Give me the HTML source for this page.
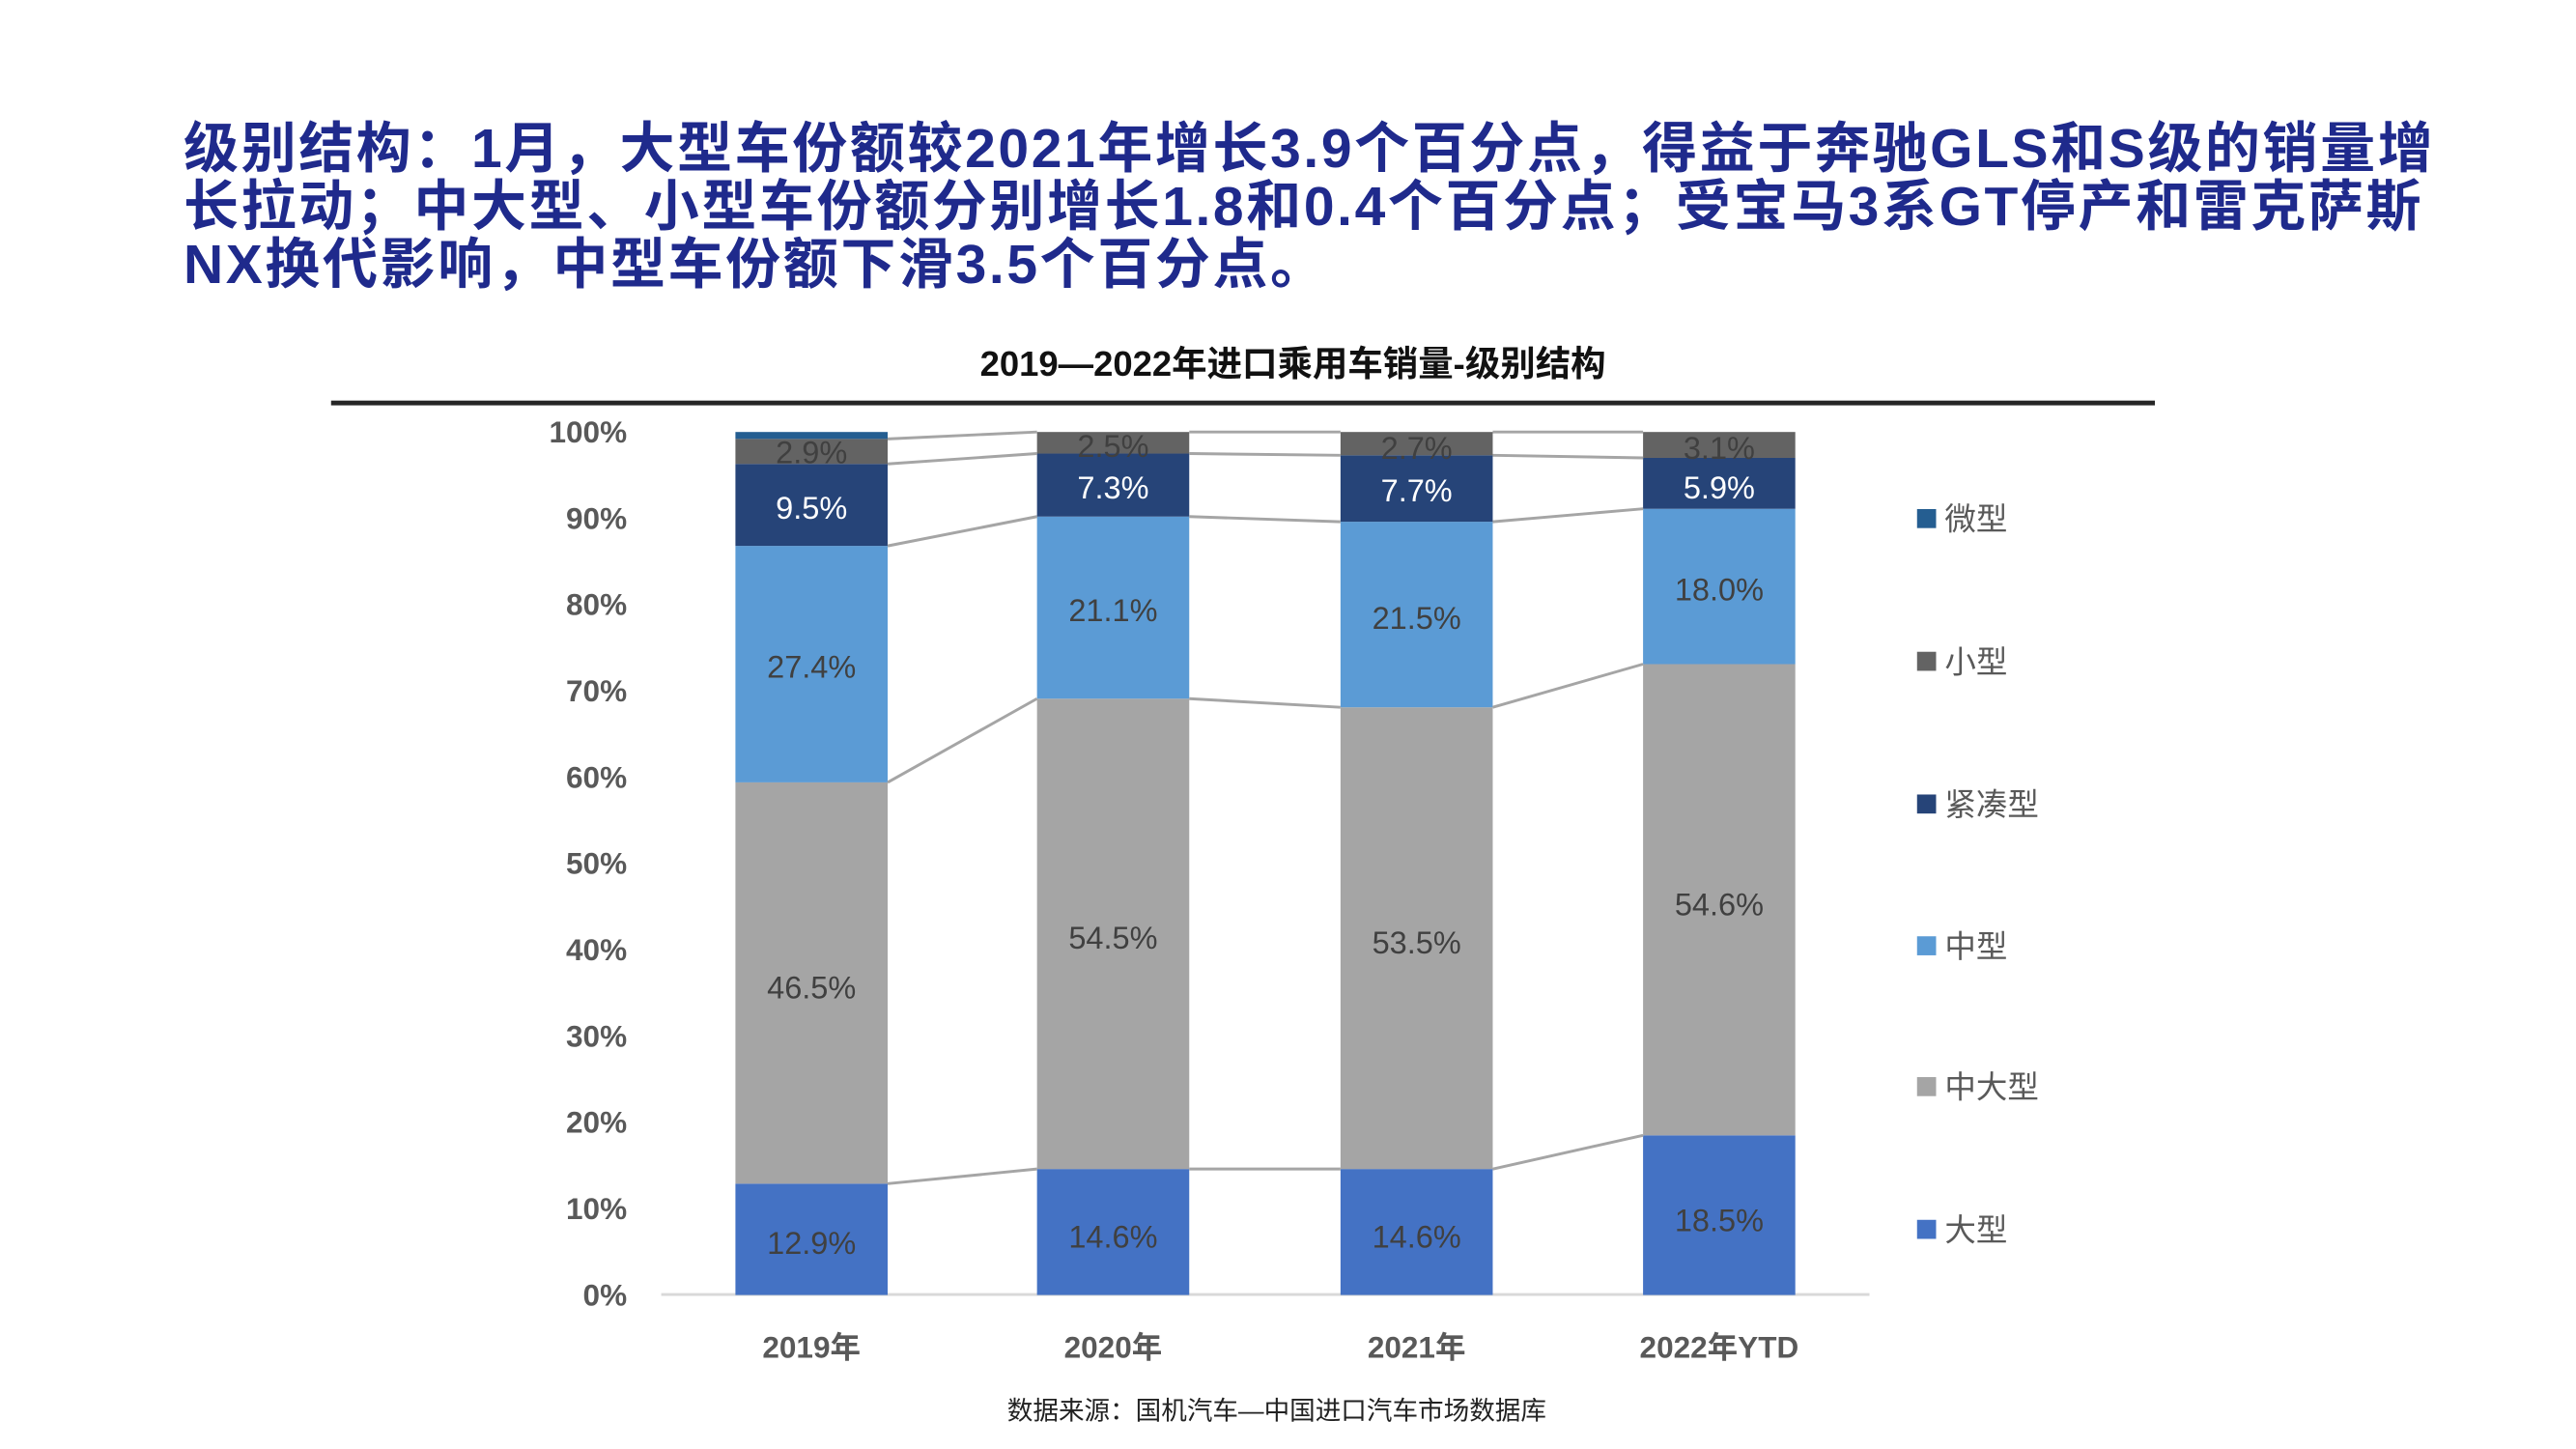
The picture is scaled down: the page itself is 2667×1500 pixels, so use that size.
<!DOCTYPE html>
<html><head><meta charset="utf-8">
<style>
html,body{margin:0;padding:0;background:#fff;}
body{width:2667px;height:1500px;overflow:hidden;position:relative;font-family:"Liberation Sans","Noto Sans CJK SC",sans-serif;}
#t{position:absolute;left:190px;top:124px;width:2450px;font-size:57px;line-height:60px;font-weight:bold;color:#1f2a8c;letter-spacing:2.6px;white-space:nowrap;font-family:"Liberation Sans","Noto Sans CJK SC",sans-serif;}
</style></head><body>
<div id="t">级别结构：1月，大型车份额较2021年增长3.9个百分点，得益于奔驰GLS和S级的销量增<br>长拉动；中大型、小型车份额分别增长1.8和0.4个百分点；受宝马3系GT停产和雷克萨斯<br>NX换代影响，中型车份额下滑3.5个百分点。</div>
<svg width="2667" height="1500" style="position:absolute;left:0;top:0" xmlns="http://www.w3.org/2000/svg"><g id="s" transform="scale(0.985)"></g></svg>
<script>
var s='';
var F='font-family="Liberation Sans, Noto Sans CJK SC, sans-serif"';
s+='<text x="1359" y="395" text-anchor="middle" font-size="37" font-weight="bold" fill="#111" '+F+'>2019—2022年进口乘用车销量-级别结构</text>';
s+='<rect x="348" y="421" width="1917" height="5" fill="#262626"/>';
function y(p){return 1361-9.07*p;}
for(var i=0;i<=10;i++){s+='<text x="659" y="'+(y(i*10)+11)+'" text-anchor="end" font-size="32" font-weight="bold" fill="#595959" '+F+'>'+(i*10)+'%</text>';}
s+='<rect x="695" y="1359" width="1270" height="3" fill="#d9d9d9"/>';
var cols=['#4472c4','#a5a5a5','#5b9bd5','#264478','#636363','#255e91'];
var data=[[12.9,46.5,27.4,9.5,2.9,0.8],[14.6,54.5,21.1,7.3,2.5,0],[14.6,53.5,21.5,7.7,2.7,0],[18.5,54.6,18.0,5.9,3.0,0]];
var xs=[773,1090,1409,1727],w=160;
var cats=['2019年','2020年','2021年','2022年YTD'];
var tops=[];
data.forEach(function(d,b){var c=0;tops[b]=[];
 d.forEach(function(v,k){var y0=y(c),y1=y(c+v);c+=v;tops[b][k]=y1;
  if(v>0)s+='<rect x="'+xs[b]+'" y="'+y1+'" width="'+w+'" height="'+(y0-y1)+'" fill="'+cols[k]+'"/>';});
 s+='<text x="'+(xs[b]+w/2)+'" y="1427" text-anchor="middle" font-size="32" font-weight="bold" fill="#595959" '+F+'>'+cats[b]+'</text>';
});
for(var k=0;k<5;k++)for(var b=0;b<3;b++){
 s+='<line x1="'+(xs[b]+w)+'" y1="'+tops[b][k]+'" x2="'+xs[b+1]+'" y2="'+tops[b+1][k]+'" stroke="#a5a5a5" stroke-width="3"/>';}
var lbl=[[[12.9,1306],[46.5,1037],[27.4,700],[9.5,533],[2.9,475]],[[14.6,1299],[54.5,985],[21.1,641],[7.3,512],[2.5,468]],[[14.6,1299],[53.5,990],[21.5,649],[7.7,515],[2.7,470]],[[18.5,1282],[54.6,950],[18.0,619],[5.9,512],[3.1,470]]];
lbl.forEach(function(L,b){L.forEach(function(e,k){
 s+='<text x="'+(xs[b]+w/2)+'" y="'+(e[1]+12)+'" text-anchor="middle" font-size="33" fill="'+(k==3?'#fff':'#404040')+'" '+F+'>'+e[0].toFixed(1)+'%</text>';});});
var leg=[['微型',5,545],['小型',4,695],['紧凑型',3,845],['中型',2,994],['中大型',1,1142],['大型',0,1292]];
leg.forEach(function(l){s+='<rect x="2015" y="'+(l[2]-10)+'" width="20" height="20" fill="'+cols[l[1]]+'"/>';
 s+='<text x="2044" y="'+(l[2]+12)+'" font-size="33" fill="#595959" '+F+'>'+l[0]+'</text>';});
s+='<text x="1342" y="1492" text-anchor="middle" font-size="27" fill="#222" '+F+'>数据来源：国机汽车—中国进口汽车市场数据库</text>';
document.getElementById('s').innerHTML=s;
</script>
</body></html>
